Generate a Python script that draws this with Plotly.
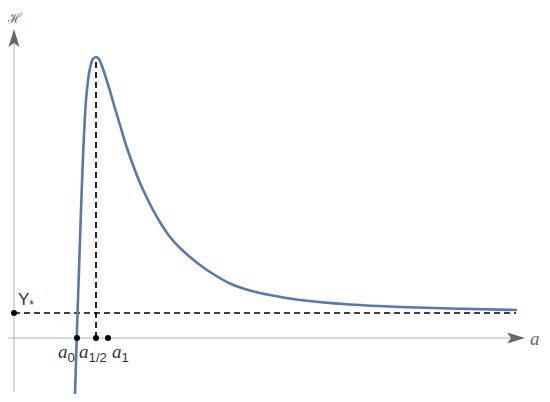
import plotly.graph_objects as go

# curve
a_vals = [0.61, 0.627, 0.65, 0.67, 0.693, 0.72, 0.76, 0.79, 0.82, 0.85, 0.88, 0.92,
          0.96, 1.00, 1.06, 1.12, 1.19, 1.26, 1.33, 1.39, 1.49, 1.56, 1.66, 1.76,
          1.86, 1.96, 2.16, 2.36, 2.56, 2.86, 3.36, 3.86, 4.36, 5.03]
h_vals = [-0.57, 0.0, 0.68, 1.28, 1.88, 2.38, 2.70, 2.79, 2.81, 2.79, 2.72, 2.60,
          2.47, 2.33, 2.13, 1.93, 1.73, 1.55, 1.40, 1.28, 1.11, 1.01, 0.90, 0.81,
          0.73, 0.66, 0.545, 0.475, 0.43, 0.38, 0.335, 0.31, 0.295, 0.28]

# marked points on the a axis
a_marks = [0.63, 0.82, 0.94]
a_labels = ["0", "1/2", "1"]
a_label_pos = [0.52, 0.79, 1.06]

y_star = 0.25
a_peak = 0.82
h_peak = 2.81
a_end = 5.02

axis_gray = "#b4b4b4"
arrow_gray = "#666666"
blue = "#5479b4"

fig = go.Figure()

# dashed guides
fig.add_trace(go.Scatter(x=[0, a_end], y=[y_star, y_star], mode="lines",
                         line=dict(color="black", width=1.7, dash="6px,4px"),
                         hoverinfo="skip"))
fig.add_trace(go.Scatter(x=[a_peak, a_peak], y=[0, h_peak], mode="lines",
                         line=dict(color="black", width=1.7, dash="6px,4px"),
                         hoverinfo="skip"))

# main curve
fig.add_trace(go.Scatter(x=a_vals, y=h_vals, mode="lines",
                         line=dict(color=blue, width=2.6, shape="spline", smoothing=0.5)))

# dots
fig.add_trace(go.Scatter(x=a_marks + [0], y=[0, 0, 0, y_star], mode="markers",
                         marker=dict(color="black", size=6)))

# axes lines
fig.add_shape(type="line", x0=-0.10, x1=4.98, y0=0, y1=0,
              line=dict(color=axis_gray, width=1), layer="below")
fig.add_shape(type="line", x0=0, x1=0, y0=-0.54, y1=2.96,
              line=dict(color=axis_gray, width=1), layer="below")
# arrow heads
fig.add_shape(type="path", path="M 5.11,0 L 4.93,0.055 L 4.97,0 L 4.93,-0.055 Z",
              fillcolor=arrow_gray, line=dict(width=0))
fig.add_shape(type="path", path="M 0,3.09 L -0.055,2.91 L 0,2.95 L 0.055,2.91 Z",
              fillcolor=arrow_gray, line=dict(width=0))

font_lbl = dict(family="Liberation Sans, Arial", size=19, color="#333333")
for lab, xp in zip(a_labels, a_label_pos):
    fig.add_annotation(
        x=xp, y=-0.15,
        text="<span style='font-family:Liberation Serif'><i>a</i></span><sub>" + lab + "</sub>",
        showarrow=False, font=font_lbl, xanchor="center", yanchor="middle")

fig.add_annotation(x=0.02, y=0.37, text="Y<sub>*</sub>", showarrow=False,
                   font=dict(family="Liberation Sans, Arial", size=17, color="#333333"),
                   xanchor="left", yanchor="middle")
fig.add_annotation(x=0.0, y=3.20, text="ℋ", showarrow=False,
                   font=dict(family="DejaVu Serif", size=14, color="#666666"),
                   xanchor="center", yanchor="middle")
fig.add_annotation(x=5.275, y=0.0, text="<i>a</i>", showarrow=False,
                   font=dict(family="Liberation Serif", size=19, color="#666666"),
                   xanchor="right", yanchor="middle")

# the page body adds an 8px margin on every side: size the figure to fit
# inside the window and shift the ranges so the drawing lines up
fig.update_layout(
    width=534, height=386,
    margin=dict(l=0, r=0, t=0, b=0),
    showlegend=False,
    plot_bgcolor="white", paper_bgcolor="white",
    xaxis=dict(range=[-0.06, 5.28], visible=False),
    yaxis=dict(range=[-0.56, 3.30], visible=False),
)

fig.write_html("out.html")
